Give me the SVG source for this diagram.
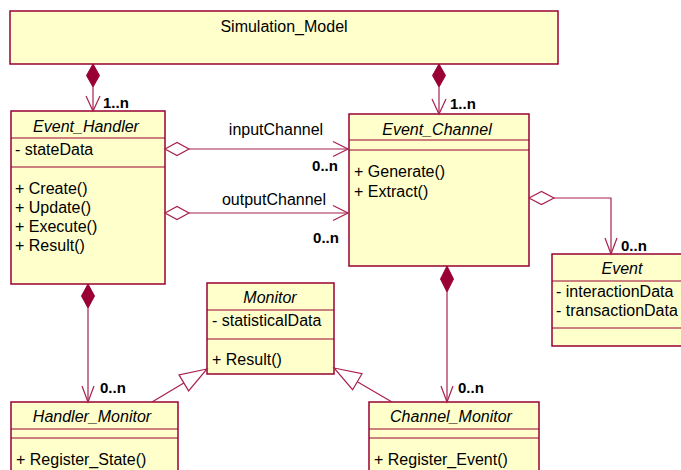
<svg xmlns="http://www.w3.org/2000/svg" width="681" height="470" viewBox="0 0 681 470">
<style>
.box{fill:#FFFFCC;stroke:#990033;stroke-width:1.5}
.sep{stroke:#990033;stroke-width:1;fill:none}
text{font-family:"Liberation Sans",Arial,sans-serif;font-size:16px;fill:#000}
.t{font-style:italic;text-anchor:middle}
.c{text-anchor:middle}
.m{font-weight:bold;font-size:15px}
.ln{stroke:#A8204C;stroke-width:1.2;fill:none}
.comp{fill:#990033;stroke:#990033;stroke-width:1}
.agg{fill:#FFFFFF;stroke:#A8204C;stroke-width:1.2}
.gen{fill:#FFFFFF;stroke:#A8204C;stroke-width:1.2}
</style>
<rect width="681" height="470" fill="#FFFFFF"/>

<g id="Simulation_Model">
<rect class="box" x="10" y="11" width="548" height="53"/>
<text class="c" x="284" y="32">Simulation_Model</text>
</g>

<g id="Event_Handler">
<rect class="box" x="11" y="111" width="154" height="173"/>
<line class="sep" x1="11" y1="138" x2="165" y2="138"/>
<line class="sep" x1="11" y1="167" x2="165" y2="167"/>
<text class="t" x="86" y="132">Event_Handler</text>
<text x="15" y="155">- stateData</text>
<text x="15" y="194">+ Create()</text>
<text x="15" y="213">+ Update()</text>
<text x="15" y="232">+ Execute()</text>
<text x="15" y="251">+ Result()</text>
</g>

<g id="Event_Channel">
<rect class="box" x="349" y="114" width="180" height="152"/>
<line class="sep" x1="349" y1="140" x2="529" y2="140"/>
<line class="sep" x1="349" y1="150" x2="529" y2="150"/>
<text class="t" x="437" y="135">Event_Channel</text>
<text x="354" y="177">+ Generate()</text>
<text x="354" y="197">+ Extract()</text>
</g>

<g id="Event">
<rect class="box" x="552" y="254" width="140" height="92"/>
<line class="sep" x1="552" y1="281" x2="692" y2="281"/>
<line class="sep" x1="552" y1="328" x2="692" y2="328"/>
<text class="t" x="622" y="274">Event</text>
<text x="556" y="297">- interactionData</text>
<text x="556" y="316">- transactionData</text>
</g>

<g id="Monitor">
<rect class="box" x="207" y="283" width="127" height="91"/>
<line class="sep" x1="207" y1="310" x2="334" y2="310"/>
<line class="sep" x1="207" y1="339" x2="334" y2="339"/>
<text class="t" x="270" y="303">Monitor</text>
<text x="212" y="326">- statisticalData</text>
<text x="212" y="365">+ Result()</text>
</g>

<g id="Handler_Monitor">
<rect class="box" x="11" y="402" width="167" height="80"/>
<line class="sep" x1="11" y1="429" x2="178" y2="429"/>
<line class="sep" x1="11" y1="438" x2="178" y2="438"/>
<text class="t" x="92" y="422">Handler_Monitor</text>
<text x="16" y="465">+ Register_State()</text>
</g>

<g id="Channel_Monitor">
<rect class="box" x="369" y="402" width="170" height="80"/>
<line class="sep" x1="369" y1="429" x2="539" y2="429"/>
<line class="sep" x1="369" y1="438" x2="539" y2="438"/>
<text class="t" x="451" y="422">Channel_Monitor</text>
<text x="374" y="465">+ Register_Event()</text>
</g>

<g id="connectors">
<!-- Simulation_Model to Event_Handler -->
<line class="ln" x1="93" y1="87" x2="93" y2="111"/>
<polygon class="comp" points="93,64 99.5,75.5 93,87 86.5,75.5"/>
<polyline class="ln" points="86,96 93,111 100,96"/>
<text class="m" x="103" y="108">1..n</text>

<!-- Simulation_Model to Event_Channel -->
<line class="ln" x1="439" y1="87" x2="439" y2="114"/>
<polygon class="comp" points="439,64 445.5,75.5 439,87 432.5,75.5"/>
<polyline class="ln" points="432,99 439,114 446,99"/>
<text class="m" x="450" y="109">1..n</text>

<!-- inputChannel -->
<line class="ln" x1="189" y1="149" x2="348" y2="149"/>
<polygon class="agg" points="165,149 177,142.5 189,149 177,155.5"/>
<polyline class="ln" points="333,141.5 348,149 333,156.5"/>
<text class="c" x="276" y="135">inputChannel</text>
<text class="c m" x="325" y="171">0..n</text>

<!-- outputChannel -->
<line class="ln" x1="189" y1="213" x2="348" y2="213"/>
<polygon class="agg" points="165,213 177,206.5 189,213 177,219.5"/>
<polyline class="ln" points="333,205.5 348,213 333,220.5"/>
<text class="c" x="274" y="205">outputChannel</text>
<text class="c m" x="326" y="243">0..n</text>

<!-- Event_Channel to Event -->
<polyline class="ln" points="554,198 611,198 611,254"/>
<polygon class="agg" points="529,198 541.5,191.5 554,198 541.5,204.5"/>
<polyline class="ln" points="605,238 611,254 617,238"/>
<text class="m" x="621" y="251">0..n</text>

<!-- Event_Handler to Handler_Monitor -->
<line class="ln" x1="88" y1="308" x2="88" y2="402"/>
<polygon class="comp" points="88,284 94.5,296 88,308 81.5,296"/>
<polyline class="ln" points="82,386 88,402 94,386"/>
<text class="m" x="100" y="393">0..n</text>

<!-- Event_Channel to Channel_Monitor -->
<line class="ln" x1="447" y1="292" x2="447" y2="402"/>
<polygon class="comp" points="447,266 453.5,279 447,292 440.5,279"/>
<polyline class="ln" points="441,386 447,402 453,386"/>
<text class="m" x="458" y="393">0..n</text>

<!-- Handler_Monitor generalizes Monitor -->
<line class="ln" x1="152" y1="402" x2="183.8" y2="382.9"/>
<polygon class="gen" points="207,369 179,374.9 188.6,390.9"/>

<!-- Channel_Monitor generalizes Monitor -->
<line class="ln" x1="392" y1="402" x2="357.3" y2="381.7"/>
<polygon class="gen" points="334,368 362,373.7 352.6,389.7"/>
</g>
</svg>
